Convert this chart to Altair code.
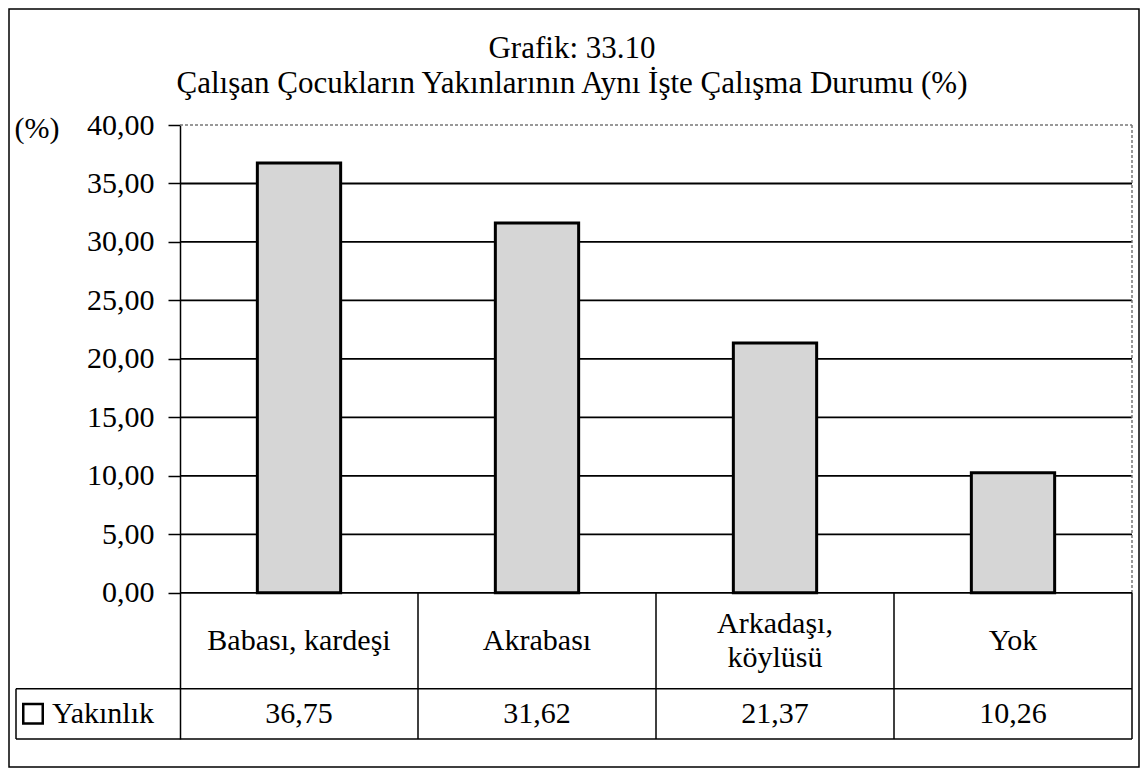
import altair as alt
import pandas as pd

# ---- data ----
categories = ["Babası, kardeşi", "Akrabası", "Arkadaşı,\nköylüsü", "Yok"]
values = [36.75, 31.62, 21.37, 10.26]
y_ticks = [0, 5, 10, 15, 20, 25, 30, 35, 40]
grid_values = [5, 10, 15, 20, 25, 30, 35]
series_name = "Yakınlık"
title_line1 = "Grafik: 33.10"
title_line2 = "Çalışan Çocukların Yakınlarının Aynı İşte Çalışma Durumu (%)"

FONT = "Liberation Serif, Times New Roman, Times, serif"
FS = 30
TFS = 31
W, H = 952, 614
Y_MIN, Y_MAX = -12.5, 40      # lower part of the scale hosts the data table
ROW_SPLIT = -8.2              # boundary between category row and value row
CAT_Y = -4.1
CAT_Y2 = -2.65                # centre for two-line labels
VAL_Y = -10.35

df = pd.DataFrame({"kategori": categories, "deger": values})
one = pd.DataFrame({"a": [0]})
grid_df = pd.DataFrame({"v": grid_values})

yscale = alt.Scale(domain=[Y_MIN, Y_MAX], nice=False, zero=False)
xscale = alt.Scale(domain=categories, paddingInner=0, paddingOuter=0)
xcat = alt.X("kategori:N", sort=categories, scale=xscale, axis=None)

yaxis = alt.Axis(
    values=y_ticks, grid=False,
    domainColor="black", domainWidth=1.5,
    tickColor="black", tickWidth=1.5, tickSize=12,
    labelPadding=14, labelFont=FONT, labelFontSize=FS, labelColor="black",
    labelExpr="replace(format(datum.value, '.2f'), '.', ',')",
    labelOverlap=False, labelFlush=False,
    title="(%)", titleAngle=0, titleAlign="left", titleBaseline="alphabetic",
    titleX=-166, titleY=12, titleFont=FONT, titleFontSize=FS,
    titleFontWeight="normal", titleColor="black",
)

grid = alt.Chart(grid_df).mark_rule(color="black", strokeWidth=1.8).encode(
    y=alt.Y("v:Q", scale=yscale, axis=yaxis),
    x=alt.value(0), x2=alt.value(W),
)

top_line = alt.Chart(one).mark_rule(color="#777777", strokeWidth=1.5, strokeDash=[3, 2]).encode(
    y=alt.datum(40), x=alt.value(0), x2=alt.value(W),
)
right_line = alt.Chart(one).mark_rule(color="#777777", strokeWidth=1.5, strokeDash=[3, 2]).encode(
    x=alt.value(W), y=alt.datum(40), y2=alt.datum(0),
)

bars = alt.Chart(df).mark_bar(
    width=alt.RelativeBandSize(0.35), fill="#d6d6d6", stroke="black", strokeWidth=3
).encode(
    x=xcat,
    y=alt.Y("deger:Q", scale=yscale, axis=yaxis),
    y2=alt.datum(0),
)

zero_line = alt.Chart(one).mark_rule(color="black", strokeWidth=1.8).encode(
    y=alt.datum(0), x=alt.value(0), x2=alt.value(W),
)
row_line = alt.Chart(one).mark_rule(color="black", strokeWidth=1.5).encode(
    y=alt.datum(ROW_SPLIT), x=alt.value(-164), x2=alt.value(W),
)
bottom_line = alt.Chart(one).mark_rule(color="black", strokeWidth=1.5).encode(
    y=alt.datum(Y_MIN), x=alt.value(-164), x2=alt.value(W),
)
separators = alt.Chart(df).mark_rule(color="black", strokeWidth=1.5).encode(
    x=alt.X("kategori:N", sort=categories, scale=xscale, axis=None, bandPosition=1),
    y=alt.datum(0), y2=alt.datum(Y_MIN),
)
legend_left = alt.Chart(one).mark_rule(color="black", strokeWidth=1.5).encode(
    x=alt.value(-164), y=alt.datum(ROW_SPLIT), y2=alt.datum(Y_MIN),
)

cat_text = alt.Chart(df).transform_calculate(
    ypos=f"indexof(datum.kategori, '\\n') >= 0 ? {CAT_Y2} : {CAT_Y}"
).mark_text(
    font=FONT, fontSize=FS, color="black", baseline="middle", lineBreak="\n", lineHeight=34
).encode(x=xcat, y=alt.Y("ypos:Q", scale=yscale), text="kategori:N")

val_text = alt.Chart(df).transform_calculate(
    lbl="replace(format(datum.deger, '.2f'), '.', ',')"
).mark_text(font=FONT, fontSize=FS, color="black", baseline="middle").encode(
    x=xcat, y=alt.datum(VAL_Y), text="lbl:N"
)

legend_sq = alt.Chart(one).mark_point(
    shape="square", size=380, filled=False, color="black", strokeWidth=2.5, opacity=1
).encode(x=alt.value(-147), y=alt.datum(VAL_Y))
legend_txt = alt.Chart(one).mark_text(
    font=FONT, fontSize=FS, color="black", align="left", baseline="middle", text=series_name
).encode(x=alt.value(-128), y=alt.datum(VAL_Y))

title1 = alt.Chart(one).mark_text(
    font=FONT, fontSize=TFS, color="black", align="center", baseline="alphabetic", text=title_line1
).encode(x=alt.value(392), y=alt.value(-67))
title2 = alt.Chart(one).mark_text(
    font=FONT, fontSize=TFS, color="black", align="center", baseline="alphabetic", text=title_line2
).encode(x=alt.value(392), y=alt.value(-32))

frame = alt.Chart(one).mark_rect(fillOpacity=0, stroke="black", strokeWidth=1.5).encode(
    x=alt.value(-171), x2=alt.value(W + 7), y=alt.value(-116), y2=alt.value(H + 28),
)

chart = alt.layer(
    frame, grid, top_line, right_line, bars, zero_line, row_line, bottom_line,
    separators, legend_left, cat_text, val_text, legend_sq, legend_txt, title1, title2,
).properties(
    width=W, height=H,
    autosize=alt.AutoSizeParams(type="none"),
    padding={"left": 172, "top": 117, "right": 8, "bottom": 29},
).configure_view(stroke=None)

chart.save("out.html", embed_options={"renderer": "svg", "actions": False})
